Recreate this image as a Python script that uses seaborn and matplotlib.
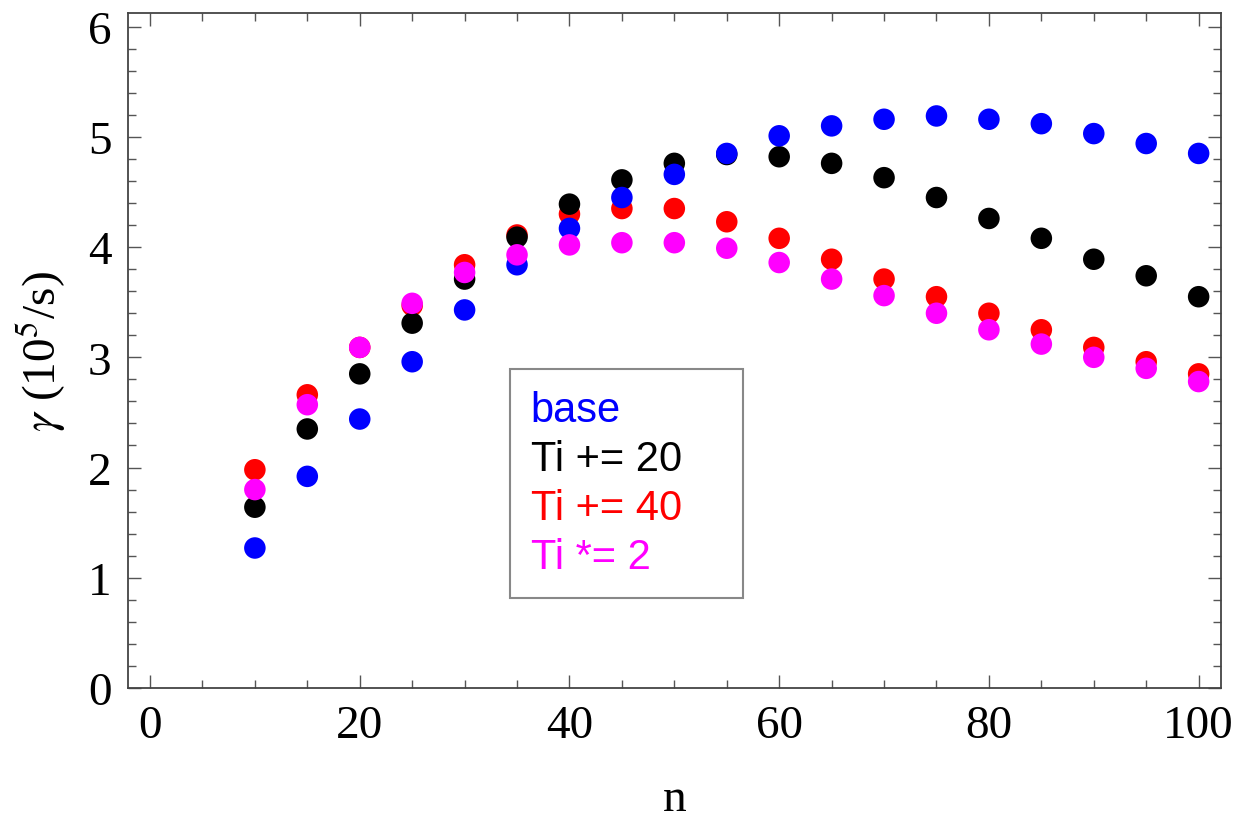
import numpy as np
import pandas as pd
import matplotlib
matplotlib.use("Agg")
import matplotlib.pyplot as plt
import seaborn as sns
from matplotlib.ticker import MultipleLocator

# mode number and growth rate gamma (10^5/s) for each case
n = [10, 15, 20, 25, 30, 35, 40, 45, 50, 55, 60, 65, 70, 75, 80, 85, 90, 95, 100]
base = [1.27, 1.92, 2.44, 2.96, 3.43, 3.84, 4.17, 4.45, 4.66, 4.85,
        5.01, 5.10, 5.16, 5.19, 5.16, 5.12, 5.03, 4.94, 4.85]
ti_plus20 = [1.64, 2.35, 2.85, 3.31, 3.71, 4.09, 4.39, 4.61, 4.76, 4.84,
             4.82, 4.76, 4.63, 4.45, 4.26, 4.08, 3.89, 3.74, 3.55]
ti_plus40 = [1.98, 2.66, 3.09, 3.47, 3.84, 4.11, 4.30, 4.35, 4.35, 4.23,
             4.08, 3.89, 3.71, 3.55, 3.40, 3.25, 3.09, 2.96, 2.85]
ti_times2 = [1.80, 2.57, 3.09, 3.49, 3.77, 3.93, 4.02, 4.04, 4.04, 3.99,
             3.86, 3.71, 3.56, 3.40, 3.25, 3.12, 3.00, 2.90, 2.78]

labels = ["base", "Ti += 20", "Ti += 40", "Ti *= 2"]
colors = ["blue", "black", "red", "magenta"]

sns.set_style("ticks")
plt.rcParams["font.family"] = ["Liberation Serif", "DejaVu Serif"]
plt.rcParams["mathtext.fontset"] = "stix"
plt.rcParams["text.color"] = "black"
plt.rcParams["axes.labelcolor"] = "black"
plt.rcParams["xtick.labelcolor"] = "black"
plt.rcParams["ytick.labelcolor"] = "black"

# rows stacked in drawing order (red under black under blue under magenta)
series = {"Ti += 40": ti_plus40, "Ti += 20": ti_plus20, "base": base, "Ti *= 2": ti_times2}
df = pd.concat([pd.DataFrame({"n": n, "gamma": v, "case": k}) for k, v in series.items()],
               ignore_index=True)

fig = plt.figure(figsize=(12.39, 8.2), dpi=100)
ax = fig.add_axes([0.1033, 0.1598, 0.8819, 0.8231])

sns.scatterplot(data=df, x="n", y="gamma", hue="case", hue_order=labels,
                palette=dict(zip(labels, colors)), s=240, linewidth=0, ax=ax)

ax.set_xlim(-2.1, 102.1)
ax.set_ylim(0, 6.124)
ax.xaxis.set_major_locator(MultipleLocator(20))
ax.xaxis.set_minor_locator(MultipleLocator(5))
ax.yaxis.set_major_locator(MultipleLocator(1))
ax.yaxis.set_minor_locator(MultipleLocator(0.2))
ax.tick_params(which="both", direction="in", top=True, right=True,
               color="#555555", width=1, labelsize=34, labelcolor="black")
ax.tick_params(which="major", length=9.5, pad=12)
ax.tick_params(which="minor", length=6)
for sp in ax.spines.values():
    sp.set_color("#444444")
    sp.set_linewidth(1.3)

ax.set_xlabel("n", fontsize=34, labelpad=22, color="black")
ax.set_ylabel(r"$\gamma$ (10$^5$/s)", fontsize=34, labelpad=14, color="black")

handles, labs = ax.get_legend_handles_labels()
leg = ax.legend(handles, labs, loc="upper left",
                bbox_to_anchor=(0.3496, 0.1363, 0.2132, 0.3363), mode="expand",
                borderaxespad=0, handlelength=0, handletextpad=0, markerscale=0,
                frameon=True, fancybox=False, framealpha=1, edgecolor="#888888",
                borderpad=0.5, labelspacing=0.22,
                prop={"family": ["Liberation Sans", "DejaVu Sans"], "size": 30})
leg.get_frame().set_linewidth(1.5)
for h in leg.legend_handles:
    h.set_visible(False)
for txt, c in zip(leg.get_texts(), colors):
    txt.set_color(c)

fig.savefig("out.png", dpi=100)
